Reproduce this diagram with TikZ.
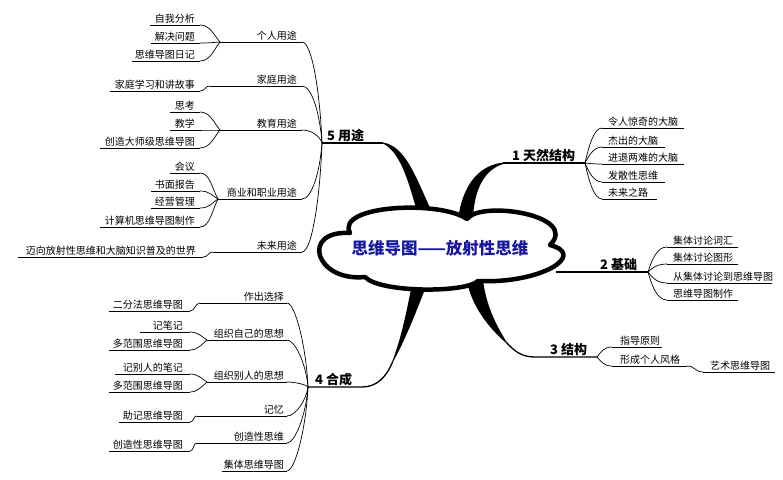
\documentclass[tikz,border=0pt]{standalone}
\usepackage{fontspec}
\setmainfont{Noto Sans CJK SC}
\usetikzlibrary{calc}
\definecolor{titleblue}{RGB}{24,24,160}
% left-side underlined item: [text offset]{name}{x1}{x2}{y}{text}
\newcommand\ulL[6][5]{%
  \coordinate (#2w) at (#3,#5);
  \coordinate (#2e) at (#4,#5);
  \draw[ul] (#2w) -- (#2e);
  \node[txt, anchor=base east] (#2) at (#4-#1,#5-2.5) {#6};}
% right-side underlined item
\newcommand\ulR[6][6]{%
  \coordinate (#2w) at (#3,#5);
  \coordinate (#2e) at (#4,#5);
  \draw[ul] (#2w) -- (#2e);
  \node[txt, anchor=base west] (#2) at (#3+#1,#5-2.5) {#6};}
% curved connector between two named points
\newcommand\cc[5]{\draw[con] let \p1=(#1), \p2=(#2) in (\p1) .. controls ({\x1+(#3pt)},\y1) and ({\x2+(#4pt)},{\y2+#5*(\y1-\y2)}) .. (\p2);}
\begin{document}
\begin{tikzpicture}[x=1pt,y=-1pt,
  ul/.style={line width=0.8pt},
  con/.style={line width=0.7pt},
  txt/.style={inner sep=0pt, font=\fontsize{10}{12}\selectfont},
  mainlbl/.style={inner sep=0pt, anchor=base west, font=\fontsize{13}{15}\selectfont\bfseries},
  mainline/.style={line width=1.3pt},
  cloudline/.style={line width=4.5pt, line join=round},
  ctrtxt/.style={inner sep=0pt, font=\fontsize{16.5}{19}\selectfont\bfseries, text=titleblue}]
\useasboundingbox (0,0) rectangle (783,479);

% ---------- main branch hubs ----------
\coordinate (h5) at (322,143); \coordinate (e5) at (383,143);
\coordinate (h1) at (585,163); \coordinate (s1) at (503,163);
\coordinate (h2) at (648,272); \coordinate (s2) at (556,272);
\coordinate (h3) at (597,357); \coordinate (s3) at (535,357);
\coordinate (h4) at (308,387); \coordinate (s4) at (362,387);

% ---------- tapered main branches ----------
\fill (416,208) .. controls (408,180) and (400,152) .. (383,143.5) -- (383,142.5) .. controls (404,146) and (414,172) .. (430,208) -- cycle;
\draw[mainline] (h5) -- (e5);
\fill (458,219) .. controls (462,190) and (475,166) .. (503,162.5) -- (503,164) .. controls (484,170) and (474,190) .. (473,219) -- cycle;
\draw[mainline] (s1) -- (h1);
\draw[line width=1.6pt] (s2) -- (h2);
\fill (467,282) .. controls (472,305) and (486,325) .. (505,342) -- (506,341) .. controls (496,325) and (486,305) .. (483,280) -- cycle;
\draw[mainline] (h3) -- (s3) .. controls (522,357) and (515,352) .. (505.5,341.5);
\fill (411,289) .. controls (406,315) and (400,342) .. (392,362) -- (393,362) .. controls (405,340) and (415,315) .. (425,289) -- cycle;
\draw[mainline] (h4) -- (s4) .. controls (376,387) and (386,378) .. (392.5,362);

% ---------- cloud ----------
\draw[cloudline, fill=white] (350,233) .. controls (335,205) and (440,200) .. (467,219)
  .. controls (480,200) and (580,215) .. (550,245)
  .. controls (588,255) and (540,284) .. (478,281)
  .. controls (466,293) and (380,293) .. (365,277)
  .. controls (315,282) and (300,230) .. (350,233) -- cycle;
\node[ctrtxt] (ctr) at (440,248) {思维导图——放射性思维};

% ---------- main labels ----------
\node[mainlbl] (L5) at (327,140) {5 用途};
\node[mainlbl] (L1) at (512,160) {1 天然结构};
\node[mainlbl] (L2) at (600,269) {2 基础};
\node[mainlbl] (L3) at (550,354) {3 结构};
\node[mainlbl] (L4) at (315,384) {4 合成};

% ---------- branch 5 ----------
\ulL{p1}{220}{302}{42}{个人用途}
\ulL{p1a}{150}{200}{25}{自我分析}
\ulL{p1b}{151}{200}{43}{解决问题}
\ulL{p1c}{132}{200}{61}{思维导图日记}
\ulL{p2}{210}{302}{86}{家庭用途}
\ulL{p2a}{110}{200}{91}{家庭学习和讲故事}
\ulL{p3}{220}{302}{130}{教育用途}
\ulL{p3a}{170}{200}{112}{思考}
\ulL{p3b}{170}{200}{130}{教学}
\ulL{p3c}{100}{200}{148}{创造大师级思维导图}
\ulL{p4}{218}{302}{199}{商业和职业用途}
\ulL{p4a}{170}{200}{173}{会议}
\ulL{p4b}{151}{200}{191}{书面报告}
\ulL{p4c}{151}{200}{208}{经营管理}
\ulL{p4d}{100}{200}{227}{计算机思维导图制作}
\ulL{p5}{213}{302}{252}{未来用途}
\ulL[7]{p5a}{18}{203}{257}{迈向放射性思维和大脑知识普及的世界}

\cc{p1ae}{p1w}{10}{-6}{0.4}
\cc{p1be}{p1w}{10}{-6}{0.4}
\cc{p1ce}{p1w}{10}{-6}{0.4}
\cc{p2ae}{p2w}{6}{-6}{0}
\cc{p3ae}{p3w}{10}{-6}{0.4}
\cc{p3be}{p3w}{10}{-6}{0.4}
\cc{p3ce}{p3w}{10}{-6}{0.4}
\cc{p4ae}{p4w}{10}{-6}{0.4}
\cc{p4be}{p4w}{10}{-6}{0.4}
\cc{p4ce}{p4w}{10}{-6}{0.4}
\cc{p4de}{p4w}{10}{-6}{0.4}
\cc{p5ae}{p5w}{6}{-6}{0}
\cc{p1e}{h5}{10}{-2}{0.5}
\cc{p2e}{h5}{10}{-2}{0.5}
\cc{p3e}{h5}{10}{-2}{0.5}
\cc{p4e}{h5}{10}{-2}{0.5}
\cc{p5e}{h5}{10}{-2}{0.5}

% ---------- branch 4 ----------
\ulL[3]{q1}{200}{287}{303}{作出选择}
\ulL[7]{q1a}{109}{190}{311}{二分法思维导图}
\ulL[3]{q2}{207}{287}{340}{组织自己的思想}
\ulL[7]{q2a}{140}{190}{332}{记笔记}
\ulL[7]{q2b}{109}{190}{350}{多范围思维导图}
\ulL[3]{q3}{207}{287}{382}{组织别人的思想}
\ulL[7]{q3a}{115}{190}{374}{记别人的笔记}
\ulL[7]{q3b}{109}{190}{392}{多范围思维导图}
\ulL[3]{q4}{197}{287}{416}{记忆}
\ulL[7]{q4a}{119}{190}{422}{助记思维导图}
\ulL[3]{q5}{197}{287}{443}{创造性思维}
\ulL[7]{q5a}{109}{190}{451}{创造性思维导图}
\ulL[3]{q6}{222}{287}{471}{集体思维导图}

\cc{q1ae}{q1w}{5}{-5}{0}
\cc{q2ae}{q2w}{8}{-5}{0.4}
\cc{q2be}{q2w}{8}{-5}{0.4}
\cc{q3ae}{q3w}{8}{-5}{0.4}
\cc{q3be}{q3w}{8}{-5}{0.4}
\cc{q4ae}{q4w}{4}{-4}{0}
\cc{q5ae}{q5w}{4}{-4}{0}
\cc{q1e}{h4}{8}{-2}{0.5}
\cc{q2e}{h4}{8}{-2}{0.5}
\cc{q3e}{h4}{8}{-2}{0.5}
\cc{q4e}{h4}{8}{-2}{0.5}
\cc{q5e}{h4}{8}{-2}{0.5}
\cc{q6e}{h4}{8}{-2}{0.5}

% ---------- branch 1 ----------
\ulR{r1a}{602}{684}{128}{令人惊奇的大脑}
\ulR{r1b}{602}{665}{147}{杰出的大脑}
\ulR{r1c}{602}{684}{164}{进退两难的大脑}
\ulR{r1d}{602}{665}{182}{发散性思维}
\ulR{r1e}{602}{657}{199}{未来之路}
\cc{r1aw}{h1}{-8}{4}{0.5}
\cc{r1bw}{h1}{-8}{4}{0.5}
\cc{r1cw}{h1}{-8}{4}{0.5}
\cc{r1dw}{h1}{-8}{4}{0.5}
\cc{r1ew}{h1}{-8}{4}{0.5}

% ---------- branch 2 ----------
\ulR{r2a}{667}{738}{247}{集体讨论词汇}
\ulR{r2b}{667}{738}{264}{集体讨论图形}
\ulR{r2c}{667}{772}{283}{从集体讨论到思维导图}
\ulR{r2d}{667}{738}{300}{思维导图制作}
\cc{r2aw}{h2}{-10}{4}{0.5}
\cc{r2bw}{h2}{-10}{4}{0.5}
\cc{r2cw}{h2}{-10}{4}{0.5}
\cc{r2dw}{h2}{-10}{4}{0.5}

% ---------- branch 3 ----------
\ulR[8]{r3a}{612}{662}{347}{指导原则}
\ulR[8]{r3b}{612}{687}{366}{形成个人风格}
\ulR[7]{r3c}{703}{775}{372}{艺术思维导图}
\cc{r3aw}{h3}{-8}{4}{0.5}
\cc{r3bw}{h3}{-8}{4}{0.5}
\cc{r3be}{r3cw}{8}{-8}{0}
\end{tikzpicture}
\end{document}
